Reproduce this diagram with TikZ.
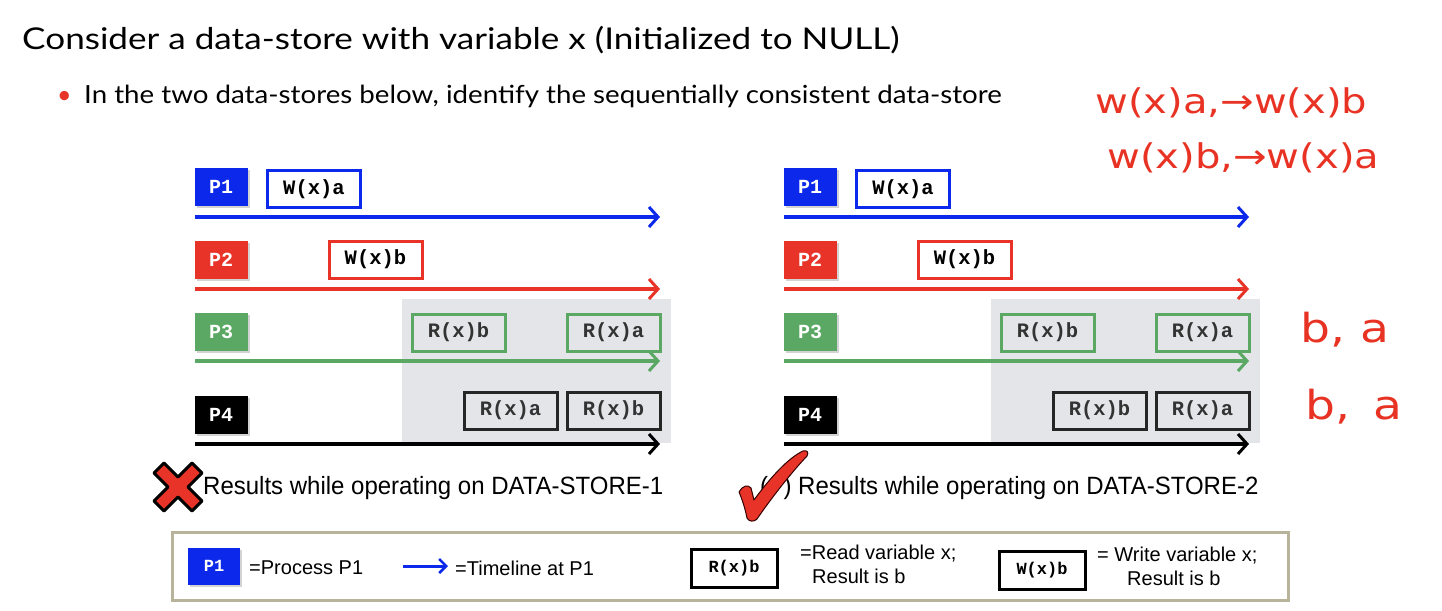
\documentclass[tikz,border=0pt]{standalone}
\usepackage{fontspec}
\setmainfont{Liberation Sans}
\newfontfamily\titlefont{Lato}
\newfontfamily\cmono{Liberation Mono}
\newfontfamily\handfont{DejaVu Sans}
\usetikzlibrary{arrows.meta,shadows}
\definecolor{pblue}{RGB}{12,40,235}
\definecolor{pred}{RGB}{232,52,40}
\definecolor{pgreen}{RGB}{90,168,100}
\definecolor{pgray}{RGB}{228,229,233}
\definecolor{lborder}{RGB}{184,180,156}
\definecolor{hand}{RGB}{232,50,35}
\tikzset{
  pbox/.style={fill=#1, minimum width=53, minimum height=38, inner sep=0pt, text=white,
    font=\cmono\bfseries\fontsize{20}{20}\selectfont,
    drop shadow={opacity=0.35, shadow xshift=2pt, shadow yshift=-2pt}},
  opbox/.style={draw=#1, line width=3pt, fill=white, minimum width=93, minimum height=37,
    inner sep=0pt, font=\cmono\bfseries\fontsize{20.5}{21}\selectfont},
  rdbox/.style={draw=#1, line width=3pt, fill=pgray, minimum width=93, minimum height=37,
    inner sep=0pt, font=\cmono\bfseries\fontsize{20.5}{21}\selectfont, text=black!80},
  tl/.style={draw=#1, line width=3.5pt, -{Straight Barb[length=9pt,width=20pt,line width=3pt]}},
  capt/.style={font=\fontsize{25}{28}\selectfont, anchor=west, inner sep=0pt, xscale=0.96},
  leg/.style={font=\fontsize{20}{24}\selectfont, anchor=west, inner sep=0pt, align=left},
  hw/.style={text=hand, font=\handfont\fontsize{34}{36}\selectfont, inner sep=0pt, anchor=west, xscale=1.18}
}
\begin{document}
\begin{tikzpicture}[x=1pt,y=-1pt]
\useasboundingbox (0,0) rectangle (1442,610);
% title
\node[anchor=base west, inner sep=0pt, xscale=1.17, font=\titlefont\fontsize{30}{32}\selectfont] (title) at (22,50) {Consider a data-store with variable x (Initialized to NULL)};
\node[anchor=base west, inner sep=0pt, text=pred, font=\titlefont\fontsize{25}{26}\selectfont] (bul) at (57,103) {•};
\node[anchor=base west, inner sep=0pt, xscale=1.107, font=\titlefont\fontsize{25}{26}\selectfont] (sub) at (84,103) {In the two data-stores below, identify the sequentially consistent data-store};

% ===== left store =====
\fill[pgray] (402,299) rectangle (671,443);
\node[pbox=pblue] (lp1) at (221,187) {P1};
\node[pbox=pred] (lp2) at (221,260) {P2};
\node[pbox=pgreen] (lp3) at (221,332) {P3};
\node[pbox=black] (lp4) at (221,415) {P4};
\node[opbox=pblue] (lw1) at (314,189) {W(x)a};
\node[opbox=pred] (lw2) at (375.5,259.5) {W(x)b};
\node[rdbox=pgreen] (lr31) at (458.5,332.5) {R(x)b};
\node[rdbox=pgreen] (lr32) at (613.5,332.5) {R(x)a};
\node[rdbox=black!85] (lr41) at (510.5,410.5) {R(x)a};
\node[rdbox=black!85] (lr42) at (613.5,410.5) {R(x)b};
\coordinate (l1s) at (195,217); \coordinate (l1e) at (660,217);
\coordinate (l2s) at (195,289); \coordinate (l2e) at (660,289);
\coordinate (l3s) at (195,361); \coordinate (l3e) at (660,361);
\coordinate (l4s) at (195,444); \coordinate (l4e) at (660,444);
\draw[tl=pblue] (l1s) -- (l1e);
\draw[tl=pred] (l2s) -- (l2e);
\draw[tl=pgreen] (l3s) -- (l3e);
\draw[tl=black] (l4s) -- (l4e);

% ===== right store =====
\fill[pgray] (991,299) rectangle (1260,443);
\node[pbox=pblue] (rp1) at (810,187) {P1};
\node[pbox=pred] (rp2) at (810,260) {P2};
\node[pbox=pgreen] (rp3) at (810,332) {P3};
\node[pbox=black] (rp4) at (810,415) {P4};
\node[opbox=pblue] (rw1) at (903,189) {W(x)a};
\node[opbox=pred] (rw2) at (964.5,259.5) {W(x)b};
\node[rdbox=pgreen] (rr31) at (1047.5,332.5) {R(x)b};
\node[rdbox=pgreen] (rr32) at (1202.5,332.5) {R(x)a};
\node[rdbox=black!85] (rr41) at (1099.5,410.5) {R(x)b};
\node[rdbox=black!85] (rr42) at (1202.5,410.5) {R(x)a};
\coordinate (r1s) at (784,217); \coordinate (r1e) at (1249,217);
\coordinate (r2s) at (784,289); \coordinate (r2e) at (1249,289);
\coordinate (r3s) at (784,361); \coordinate (r3e) at (1249,361);
\coordinate (r4s) at (784,444); \coordinate (r4e) at (1249,444);
\draw[tl=pblue] (r1s) -- (r1e);
\draw[tl=pred] (r2s) -- (r2e);
\draw[tl=pgreen] (r3s) -- (r3e);
\draw[tl=black] (r4s) -- (r4e);

% ===== captions =====
\node[capt] (cap1) at (203,488) {Results while operating on DATA-STORE-1};
\node[capt] (cap2) at (760,488) {(\hspace{16pt}) Results while operating on DATA-STORE-2};
% red X
\begin{scope}[shift={(178,487)}]
\filldraw[fill=pred, draw=black, line width=3pt, line join=round]
 (-24,-14) -- (-14,-24) -- (0,-10) -- (14,-24) -- (24,-14) -- (10,0) -- (24,14) -- (14,24) -- (0,10) -- (-14,24) -- (-24,14) -- (-10,0) -- cycle;
\end{scope}
% red check
\filldraw[fill=pred, draw=black!80!red, line width=1pt, line join=round]
 (739,492) .. controls (742,486) and (748,484) .. (751,488)
 -- (754,500) .. controls (770,478) and (788,458) .. (803,451)
 .. controls (807,450) and (809,452) .. (807,456)
 .. controls (790,474) and (770,500) .. (757,519)
 .. controls (754,522) and (749,522) .. (747,518)
 .. controls (745,508) and (742,499) .. cycle;

% ===== legend =====
\draw[lborder, line width=3pt] (172,532) rectangle (1288,600);
\node[pbox=pblue, minimum width=52, minimum height=37, font=\cmono\bfseries\fontsize{17}{18}\selectfont] (gp) at (214,566) {P1};
\node[leg] (gpt) at (249,568) {=Process P1};
\coordinate (ga) at (403,566); \coordinate (gb) at (448,566);
\draw[draw=pblue, line width=3pt, -{Straight Barb[length=7pt,width=14pt,line width=2.5pt]}] (ga) -- (gb);
\node[leg] (gat) at (455,568) {=Timeline at P1};
\node[draw=black, line width=3pt, minimum width=86, minimum height=38, inner sep=0pt, font=\cmono\bfseries\fontsize{17}{18}\selectfont] (gr) at (734,568) {R(x)b};
\node[leg, anchor=north west] (grt) at (800,545) {=Read variable x;\\\hspace*{12pt}Result is b};
\node[draw=black, line width=3pt, minimum width=86, minimum height=38, inner sep=0pt, font=\cmono\bfseries\fontsize{17}{18}\selectfont] (gw) at (1042,570) {W(x)b};
\node[leg, anchor=north west] (gwt) at (1097,547) {= Write variable x;\\\hspace*{30pt}Result is b};

% ===== handwritten notes =====
\node[hw] (h1) at (1095,103) {w(x)a,→w(x)b};
\node[hw] (h2) at (1107,158) {w(x)b,→w(x)a};
\node[hw, font=\handfont\fontsize{40}{42}\selectfont] (h3) at (1300,330) {b, a};
\node[hw, font=\handfont\fontsize{40}{42}\selectfont] (h4) at (1305,407) {b,\, a};
\end{tikzpicture}
\end{document}
